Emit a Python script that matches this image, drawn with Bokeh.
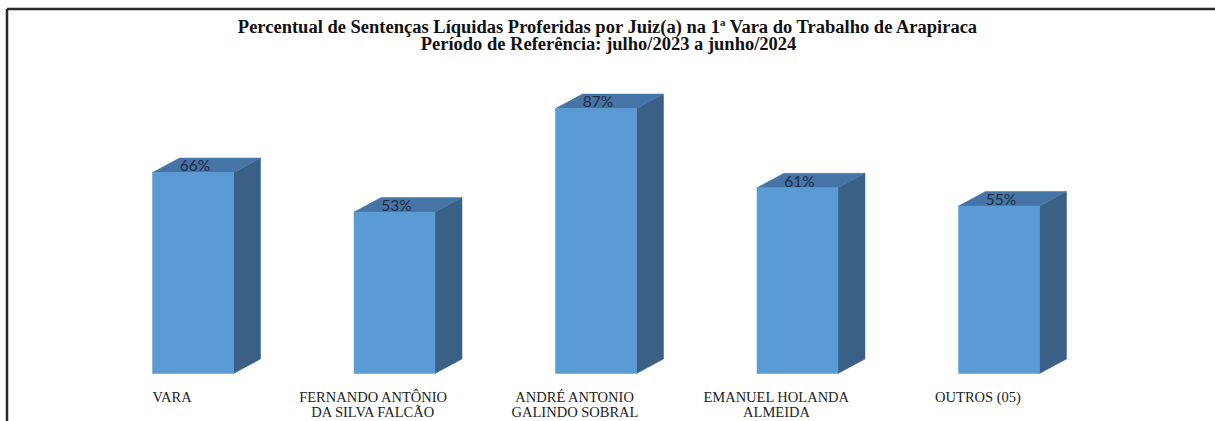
from bokeh.plotting import figure
from bokeh.models import Range1d, Label, ColumnDataSource
from bokeh.core.properties import value
from bokeh.embed import file_html
from bokeh.resources import INLINE

# ---- data ----
categories = ["VARA", "FERNANDO ANTÔNIO\nDA SILVA FALCÃO", "ANDRÉ ANTONIO\nGALINDO SOBRAL",
              "EMANUEL HOLANDA\nALMEIDA", "OUTROS (05)"]
values = [66, 53, 87, 61, 55]
value_labels = ["66%", "53%", "87%", "61%", "55%"]
title_lines = ["Percentual de Sentenças Líquidas Proferidas por Juiz(a) na 1ª Vara do Trabalho de Arapiraca",
               "Período de Referência: julho/2023 a junho/2024"]

# ---- layout / style ----
W, H = 1215, 421
PX_X = 201.5          # pixels per category
PX_Y = 3.045          # pixels per percent
BASE_Y = 373          # pixel row of the 0 % baseline
X0 = -192.5 / PX_X
X1 = X0 + W / PX_X
Y1 = BASE_Y / PX_Y
Y0 = -(H - BASE_Y) / PX_Y
BAR_W = 81 / PX_X
DX = 27 / PX_X
DY = 14.5 / PX_Y
FRONT, TOP, SIDE = "#5b9bd5", "#4674a6", "#3a6086"

p = figure(width=W, height=H, output_backend="svg", toolbar_location=None,
           x_range=Range1d(X0, X1), y_range=Range1d(Y0, Y1),
           min_border=0, min_border_left=0, min_border_right=0,
           min_border_top=0, min_border_bottom=0)
p.axis.visible = False
p.grid.visible = False
p.outline_line_color = None
p.background_fill_color = "white"
p.border_fill_color = "white"

idx = list(range(len(values)))
src = ColumnDataSource(dict(
    x=idx,
    left=[i - BAR_W / 2 for i in idx],
    right=[i + BAR_W / 2 for i in idx],
    top=values,
    lab=value_labels,
    lab_y=[v + DY / 2 for v in values],
    cat=categories,
))

# side faces
side_xs = [[i + BAR_W / 2, i + BAR_W / 2 + DX, i + BAR_W / 2 + DX, i + BAR_W / 2] for i in idx]
side_ys = [[0, DY, v + DY, v] for v in values]
p.patches(side_xs, side_ys, fill_color=SIDE, line_color=SIDE, line_width=0.5)

# top faces
top_xs = [[i - BAR_W / 2, i - BAR_W / 2 + DX, i + BAR_W / 2 + DX, i + BAR_W / 2] for i in idx]
top_ys = [[v, v + DY, v + DY, v] for v in values]
p.patches(top_xs, top_ys, fill_color=TOP, line_color=TOP, line_width=0.5)

# front faces
p.quad(left="left", right="right", bottom=0, top="top", source=src,
       fill_color=FRONT, line_color=FRONT, line_width=0.5)

# value labels
p.text(x="x", y="lab_y", text="lab", source=src, text_align="center",
       text_baseline="middle", x_offset=2, text_font=value("Lato"), text_font_size="15.5px",
       text_color="#1e2d44")

# category labels
p.text(x="x", y=0, text="cat", source=src, text_align="center",
       text_baseline="top", x_offset=-21, y_offset=15, text_line_height=0.98,
       text_font=value("Liberation Serif"), text_font_size="14.5px", text_color="#222222")

# title
for k, t in enumerate(title_lines):
    p.add_layout(Label(x=608, y=H - 26 - 17.5 * k, x_units="screen", y_units="screen",
                       text=t, text_align="center", text_baseline="middle",
                       text_font="Liberation Serif", text_font_style="bold",
                       text_font_size="18.5px", text_color="#111111"))

# border lines (top and left)
bx = X0 + 6.5 / PX_X
by = Y1 - 8.5 / PX_Y
p.segment(x0=[bx, bx], y0=[by, by], x1=[X1, bx], y1=[by, Y0],
          line_color="#2a2a2a", line_width=2.5)

open("out.html", "w").write(file_html(p, INLINE))
